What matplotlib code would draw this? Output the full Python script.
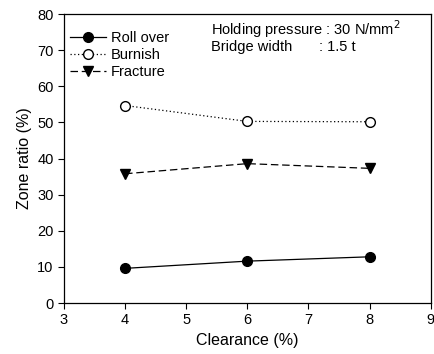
# zone ratio vs clearance
import numpy as np
import matplotlib.pyplot as plt

plt.rcParams['font.family'] = ['Liberation Sans', 'DejaVu Sans']

clearance = [4, 6, 8]
roll_over = [9.6, 11.6, 12.8]
burnish = [54.7, 50.3, 50.2]
fracture = [35.8, 38.6, 37.3]

fig = plt.figure(figsize=(4.35, 3.54), dpi=100)
ax = fig.add_axes([0.147, 0.144, 0.843, 0.816])

ax.plot(clearance, roll_over, color='black', lw=0.9, ls='-', marker='o',
        ms=7, label='Roll over')
ax.plot(clearance, burnish, color='black', lw=0.9, ls=(0, (1, 2)), marker='o',
        ms=7, mfc='white', label='Burnish')
ax.plot(clearance, fracture, color='black', lw=0.9, ls=(0, (6, 3)), marker='v',
        ms=7, label='Fracture')

ax.set_xlim(3, 9)
ax.set_ylim(0, 80)
ax.set_xticks(range(3, 10))
ax.set_yticks(range(0, 81, 10))
ax.tick_params(direction='out', length=4, labelsize=10.5, width=0.8)
ax.set_xlabel('Clearance (%)', fontsize=11.5)
ax.set_ylabel('Zone ratio (%)', fontsize=11.5)
for s in ax.spines.values():
    s.set_linewidth(0.9)

ax.legend(loc='upper left', bbox_to_anchor=(0.0, 0.962), frameon=False,
          fontsize=10.5, handlelength=2.5, borderaxespad=0.0,
          labelspacing=0.2, handletextpad=0.3)

ax.text(0.40, 0.927, 'Holding pressure : 30 N/mm$^2$', transform=ax.transAxes,
        fontsize=10.5, va='baseline')
ax.text(0.40, 0.872, 'Bridge width', transform=ax.transAxes, fontsize=10.5,
        va='baseline')
ax.text(0.695, 0.872, ': 1.5 t', transform=ax.transAxes, fontsize=10.5,
        va='baseline')

plt.savefig('out.png', dpi=100)
